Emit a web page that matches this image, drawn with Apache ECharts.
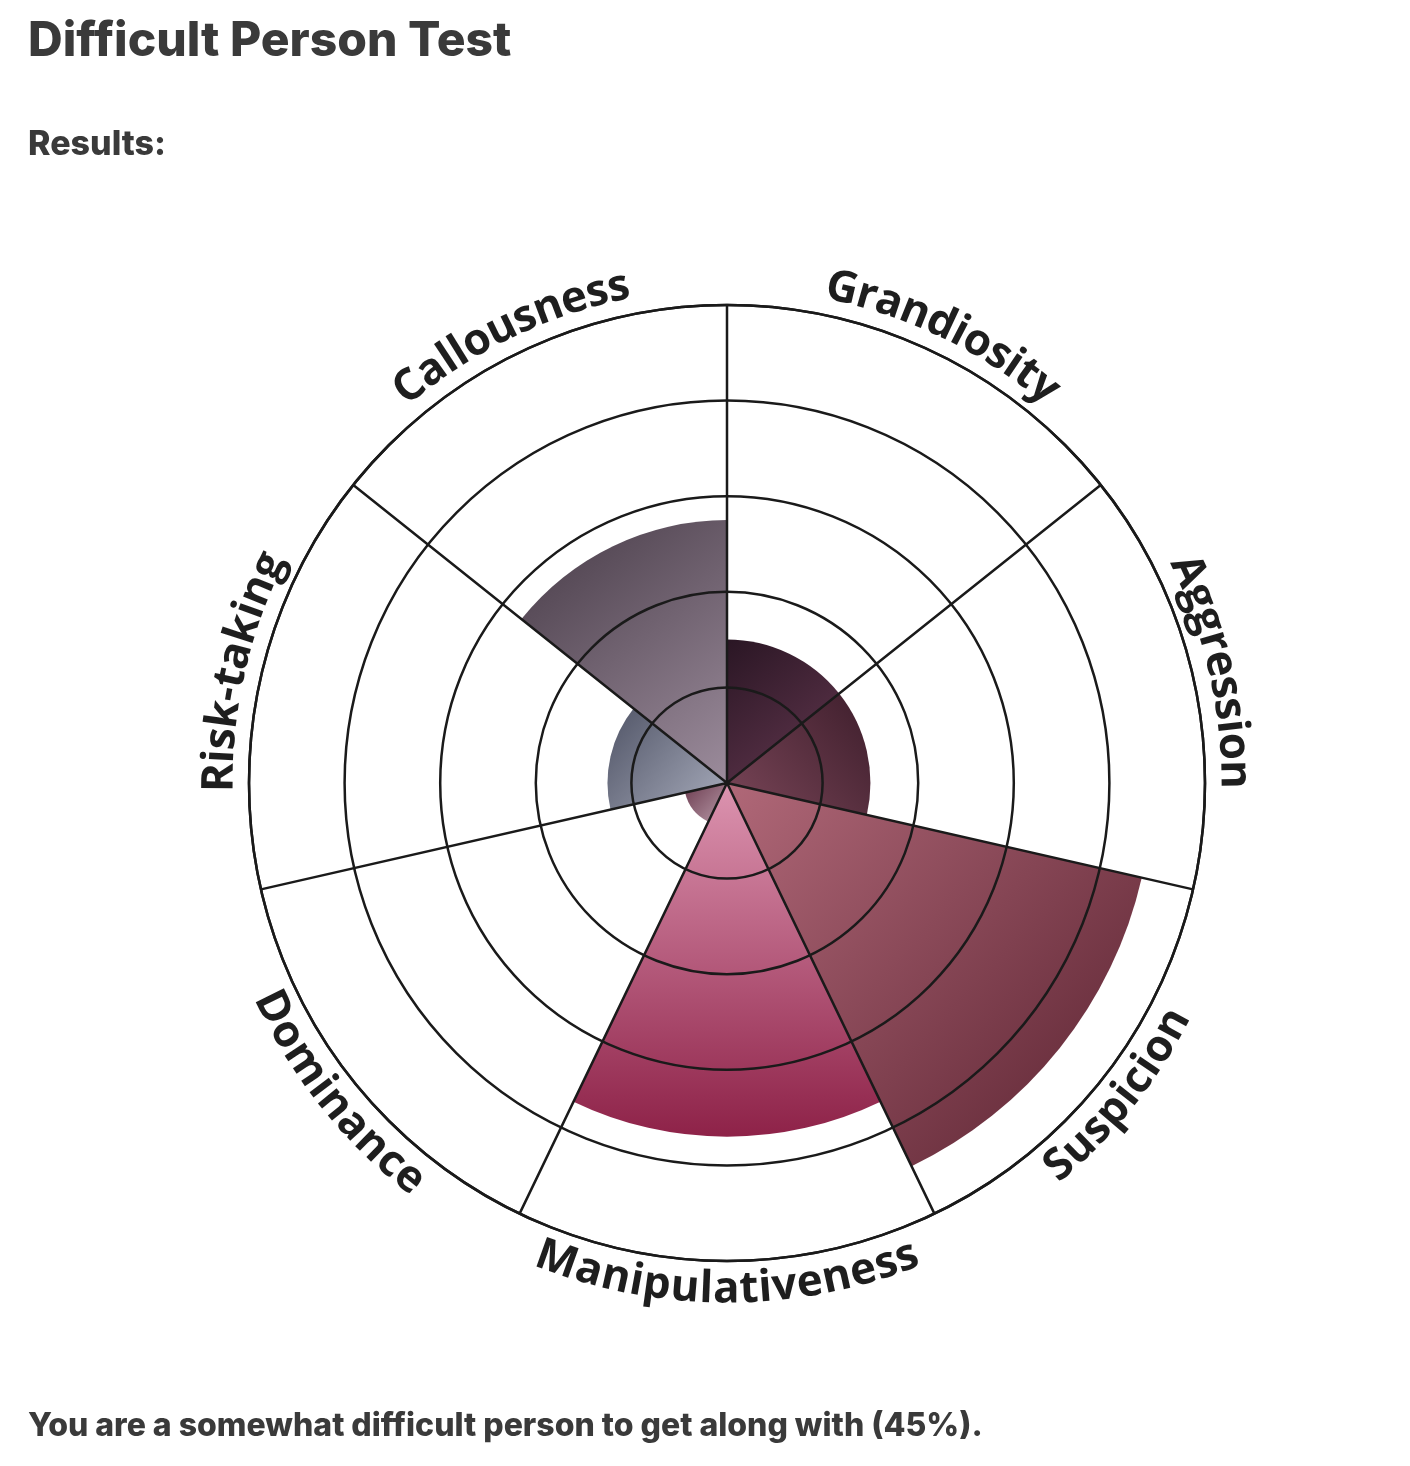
<!DOCTYPE html>
<html><head><meta charset="utf-8">
<script src="https://cdn.jsdelivr.net/npm/echarts@6/dist/echarts.min.js"></script>
<style>html,body{margin:0;background:#fff}#c{width:1410px;height:1466px}</style>
</head><body><div id="c"></div>
<script>
var categories = ['Grandiosity','Aggression','Suspicion','Manipulativeness','Dominance','Risk-taking','Callousness'];
var values = [30, 30, 89, 74, 9, 25, 55];
var gradients = [
  ['#2a1624','#63374f'], ['#3e1e2c','#7a4658'], ['#b06878','#5a2230'],
  ['#dc94b0','#8e2248'], ['#6c3c50','#b89aa8'], ['#505466','#a8acbc'], ['#463a46','#9c8c9c']
];
var gradDir = [[0,0,1,1],[1,0,0,1],[0,0,1,1],[0,0,0,1],[0,0,1,1],[0,0,1,1],[0,0,1,1]];
var topStyle = [true, true, false, false, false, true, true];

var cx = 727, cy = 783, R = 478, labelR = 507;
var chart = echarts.init(document.getElementById('c'));

var ctx = document.createElement('canvas').getContext('2d');
var font = 'bold 44px "Open Sans"';
ctx.font = font;
var graphics = [];
categories.forEach(function (name, i) {
  var step = 2 * Math.PI / categories.length;
  var mid = (i + 0.5) * step;
  var widths = name.split('').map(function (ch) { return ctx.measureText(ch).width; });
  var total = widths.reduce(function (a, b) { return a + b; }, 0);
  var span = total / labelR;
  var dir = topStyle[i] ? 1 : -1;
  var pos = mid - dir * span / 2;
  name.split('').forEach(function (ch, k) {
    var th = pos + dir * (widths[k] / 2) / labelR;
    pos += dir * widths[k] / labelR;
    graphics.push({
      type: 'text', x: cx + labelR * Math.sin(th), y: cy - labelR * Math.cos(th),
      rotation: topStyle[i] ? -th : Math.PI - th,
      style: { text: ch, font: font, fill: '#1e1e1e', align: 'center', verticalAlign: 'middle' }
    });
  });
});
graphics.push({ type: 'text', left: 28, top: 18, style: { text: 'Difficult Person Test', font: '800 48px Inter', fill: '#3a3a3a' } });
graphics.push({ type: 'text', left: 28, top: 128, style: { text: 'Results:', font: '800 34px Inter', fill: '#3a3a3a' } });
graphics.push({ type: 'text', left: 28, top: 1410, style: { text: 'You are a somewhat difficult person to get along with (45%).', font: '800 32px Inter', fill: '#3a3a3a' } });

var lineStyle = { color: '#1a1a1a', width: 2.5 };
chart.setOption({
  animation: false,
  polar: { center: [cx, cy], radius: R },
  angleAxis: {
    type: 'category', data: categories, startAngle: 90, z: 10,
    axisLine: { show: true, lineStyle: lineStyle }, axisTick: { show: false }, axisLabel: { show: false },
    splitLine: { show: true, lineStyle: lineStyle }
  },
  radiusAxis: {
    min: 0, max: 100, interval: 20, z: 10,
    axisLine: { show: false }, axisTick: { show: false }, axisLabel: { show: false },
    splitLine: { show: true, lineStyle: lineStyle }
  },
  series: [{
    type: 'bar', coordinateSystem: 'polar', barCategoryGap: '0%', z: 2,
    data: values.map(function (v, i) {
      var d = gradDir[i];
      return { value: v, itemStyle: { color: new echarts.graphic.LinearGradient(d[0], d[1], d[2], d[3], [
        { offset: 0, color: gradients[i][0] }, { offset: 1, color: gradients[i][1] }]) } };
    })
  }],
  graphic: graphics
});
</script></body></html>
